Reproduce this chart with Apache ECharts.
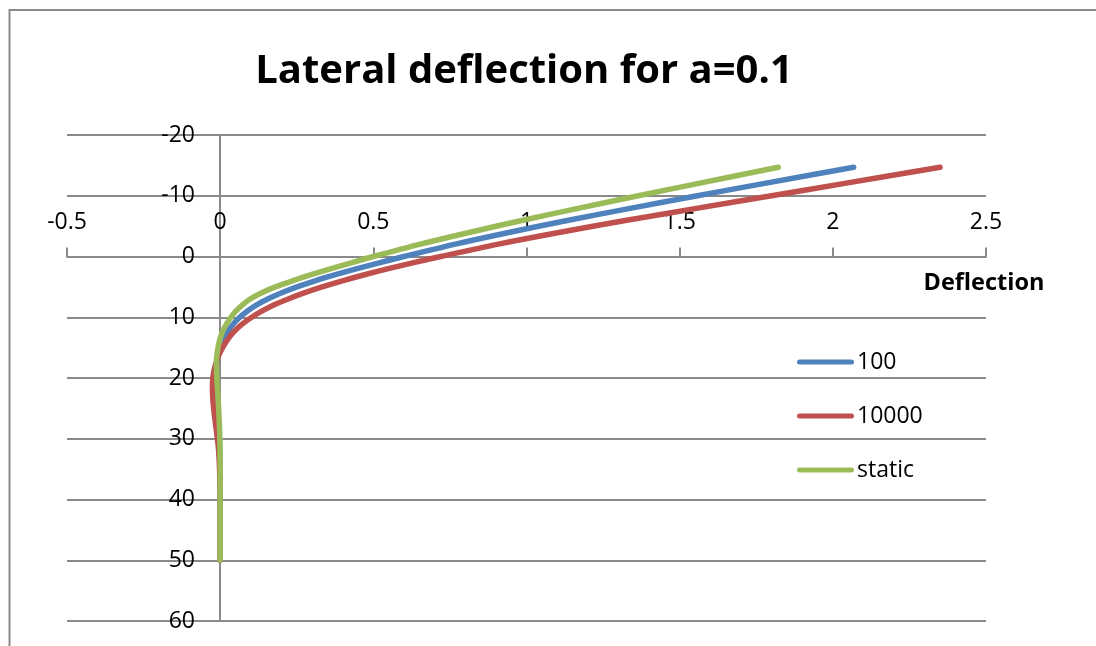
<!DOCTYPE html>
<html>
<head>
<meta charset="utf-8">
<script src="https://cdn.jsdelivr.net/npm/echarts@6/dist/echarts.min.js"></script>
<style>
  html, body { margin: 0; padding: 0; background: #fff; }
  #chart { width: 1096px; height: 646px; }
</style>
</head>
<body>
<div id="chart"></div>
<script>
// Depth along the pile (vertical axis, positive downward) and lateral deflection (horizontal axis)
const depth100 = [-14.7, -12, -10, -8, -6, -4, -2, 0, 1, 2, 3, 4, 5, 6, 7, 8, 9, 10, 11, 12, 13, 14, 15, 16, 17, 18, 19, 20, 23, 26, 30, 35, 40, 45, 50];
const defl100  = [2.068, 1.773, 1.558, 1.347, 1.141, 0.946, 0.764, 0.6, 0.522, 0.447, 0.376, 0.31, 0.251, 0.199, 0.155, 0.118, 0.088, 0.064, 0.045, 0.030, 0.018, 0.008, 0.0, -0.006, -0.010, -0.013, -0.014, -0.014, -0.011, -0.007, -0.003, -0.001, 0, 0, 0];

const depth10000 = [-14.7, -12, -10, -8, -6, -4, -2, 0, 1, 2, 3, 4, 5, 6, 7, 8, 9, 10, 11, 12, 13, 14, 15, 16, 17, 18, 19, 20, 21, 22, 24, 26, 28, 30, 32, 35, 40, 45, 50];
const defl10000  = [2.35, 2.034, 1.80, 1.564, 1.332, 1.11, 0.904, 0.72, 0.632, 0.549, 0.471, 0.399, 0.333, 0.274, 0.222, 0.175, 0.136, 0.103, 0.075, 0.052, 0.034, 0.020, 0.008, -0.002, -0.010, -0.016, -0.021, -0.024, -0.025, -0.025, -0.023, -0.019, -0.014, -0.009, -0.005, -0.002, 0, 0, 0];

const depthStatic = [-14.7, -12, -10, -8, -6, -4, -2, 0, 1, 2, 3, 4, 5, 6, 7, 8, 9, 10, 11, 12, 13, 14, 15, 16, 17, 18, 20, 23, 26, 30, 35, 40, 45, 50];
const deflStatic  = [1.822, 1.558, 1.365, 1.176, 0.992, 0.816, 0.650, 0.5, 0.430, 0.362, 0.297, 0.236, 0.180, 0.134, 0.098, 0.072, 0.051, 0.035, 0.022, 0.011, 0.003, -0.003, -0.007, -0.010, -0.012, -0.012, -0.011, -0.007, -0.004, -0.001, 0, 0, 0, 0];

const seriesNames = ['100', '10000', 'static'];
const seriesColors = ['#4F81BD', '#C0504D', '#9BBB59'];

const xTicks = [-0.5, 0, 0.5, 1, 1.5, 2, 2.5];
const yTicks = [-20, -10, 0, 10, 20, 30, 40, 50, 60];

const FONT = '"Open Sans", "Liberation Sans", sans-serif';
const AXIS_GREY = '#8a8a8a';

function pairs(xs, ys) {
  return xs.map((x, i) => [x, ys[i]]);
}

const curves = [
  pairs(defl100, depth100),
  pairs(defl10000, depth10000),
  pairs(deflStatic, depthStatic)
];

const chart = echarts.init(document.getElementById('chart'), null, { renderer: 'canvas' });

chart.setOption({
  animation: false,
  backgroundColor: '#ffffff',
  textStyle: { fontFamily: FONT },
  grid: { left: 67, right: 110, top: 135, bottom: 25, containLabel: false },
  xAxis: {
    type: 'value',
    position: 'top',
    min: xTicks[0],
    max: xTicks[xTicks.length - 1],
    interval: xTicks[1] - xTicks[0],
    axisLine: { show: true, onZero: true, lineStyle: { color: AXIS_GREY, width: 2 } },
    axisTick: { show: true, inside: false, length: 9, lineStyle: { color: AXIS_GREY, width: 2 } },
    // labels sit just above the zero line, not at the grid edge
    axisLabel: { color: '#000', fontSize: 23, fontFamily: FONT, margin: -99 },
    splitLine: { show: false }
  },
  yAxis: {
    type: 'value',
    inverse: true,
    position: 'left',
    min: yTicks[0],
    max: yTicks[yTicks.length - 1],
    interval: yTicks[1] - yTicks[0],
    axisLine: { show: true, onZero: true, lineStyle: { color: AXIS_GREY, width: 2 } },
    axisTick: { show: true, inside: false, length: 7, lineStyle: { color: AXIS_GREY, width: 2 } },
    // labels sit just left of the x = 0 line
    axisLabel: { color: '#000', fontSize: 23, fontFamily: FONT, margin: -128 },
    splitLine: { show: true, lineStyle: { color: AXIS_GREY, width: 2 } }
  },
  legend: {
    orient: 'vertical',
    left: 797,
    top: 349,
    padding: 0,
    itemWidth: 57,
    itemHeight: 5,
    itemGap: 28,
    icon: 'path://M2.5,0 L54.5,0 A2.5,2.5 0 0 1 54.5,5 L2.5,5 A2.5,2.5 0 0 1 2.5,0 Z',
    textStyle: { color: '#000', fontSize: 23, fontFamily: FONT, lineHeight: 26, padding: [0, 0, 0, -2] },
    data: seriesNames
  },
  graphic: [
    {
      type: 'rect',
      shape: { x: 9.5, y: 10, width: 1200, height: 800 },
      style: { fill: 'none', stroke: AXIS_GREY, lineWidth: 2 },
      silent: true
    },
    {
      type: 'text',
      x: 524,
      y: 72,
      style: {
        text: 'Lateral deflection for a=0.1',
        fill: '#000',
        font: 'bold 40px ' + FONT,
        align: 'center',
        verticalAlign: 'middle'
      }
    },
    {
      type: 'text',
      x: 984,
      y: 283,
      style: {
        text: 'Deflection',
        fill: '#000',
        font: 'bold 23.5px ' + FONT,
        align: 'center',
        verticalAlign: 'middle'
      }
    }
  ],
  series: seriesNames.map((name, i) => ({
    name: name,
    type: 'line',
    data: curves[i],
    smooth: 0.3,
    showSymbol: false,
    symbol: 'none',
    color: seriesColors[i],
    lineStyle: { color: seriesColors[i], width: 5.5, cap: 'round', join: 'round' },
    z: 3 + i
  }))
});
</script>
</body>
</html>
